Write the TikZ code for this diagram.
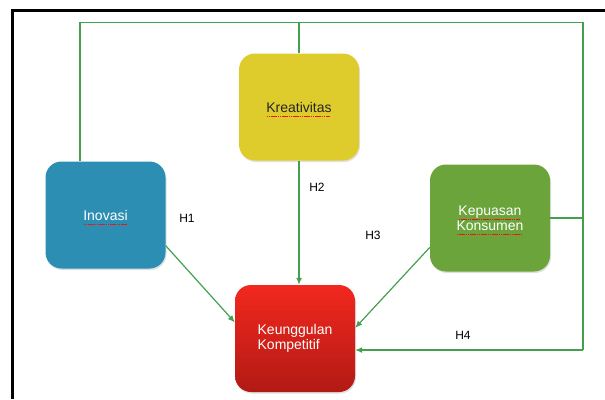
\documentclass[tikz,border=0pt]{standalone}
\usepackage{fontspec}
\setmainfont{Liberation Sans}
\usepackage{xcolor}
\usetikzlibrary{arrows.meta,shadows}

\definecolor{linegreen}{RGB}{68,160,78}
\definecolor{kreayellow}{RGB}{222,204,44}
\definecolor{inovblue}{RGB}{44,142,178}
\definecolor{kepugreen}{RGB}{106,164,58}
\definecolor{keuntop}{RGB}{242,40,30}
\definecolor{keunbot}{RGB}{178,26,20}
\definecolor{spellred}{RGB}{240,20,20}

% red dotted mark under a word
\newsavebox{\spellbox}
\newcommand{\spellmark}[1]{\sbox{\spellbox}{#1}\rlap{\usebox{\spellbox}}%
	\raisebox{-0.65ex}[0pt][0pt]{\textcolor{spellred}{\hbox to \wd\spellbox{\leaders\hbox to 2.2pt{\hss\rule{1.6pt}{0.9pt}\hss}\hfill}}}}

\begin{document}
\begin{tikzpicture}[x=1pt,y=-1pt,
		box/.style={rounded corners=16pt, minimum width=120pt, minimum height=107pt,
			font=\fontsize{14}{15.5}\selectfont, align=center,
			drop shadow={opacity=0.25, shadow xshift=1pt, shadow yshift=-1.5pt}},
		link/.style={draw=linegreen, line width=1.2pt},
		arr/.style={link, -{Latex[length=7pt,width=6pt]}},
		hyp/.style={font=\fontsize{12}{13}\selectfont}]
	\useasboundingbox (0,0) rectangle (605,399);

	% Frame
	\draw[line width=2.2pt] (12.5,399) -- (12.5,10.5) -- (605,10.5);

	% Boxes
	\node[box, fill=kreayellow, text=black!85] (krea) at (299,107) {\spellmark{Kreativitas}};
	\node[box, fill=inovblue, text=white] (inov) at (105.5,215) {\spellmark{Inovasi}};
	\node[box, fill=kepugreen, text=white] (kepu) at (490,218) {\spellmark{Kepuasan}\\\spellmark{Konsumen}};
	\node[box, top color=keuntop, bottom color=keunbot, text=white, align=left] (keun) at (295,338.5) {Keunggulan\\Kompetitif};

	% Loop round the top and right side
	\coordinate (tl) at (80,22.7);
	\coordinate (tr) at (583,22.7);
	\coordinate (br) at (583,350);
	\draw[link] (inov.north -| tl) -- (tl) -- (tr) -- (br);
	\draw[link] (krea.north) -- (krea.north |- tl);
	\draw[link] (kepu.east) -- (kepu.east -| tr);
	\draw[arr] (br) -- (keun.east |- br);

	% Arrows
	\draw[arr] (krea.south) -- (krea.south |- keun.north);
	\draw[arr] (inov.-27) -- (keun.165);
	\draw[arr] (kepu.206) -- (keun.10);

	% Labels
	\node[hyp] (h1) at (187,218) {H1};
	\node[hyp] (h2) at (317,187) {H2};
	\node[hyp] (h3) at (373,235) {H3};
	\node[hyp] (h4) at (463,335) {H4};
\end{tikzpicture}
\end{document}
